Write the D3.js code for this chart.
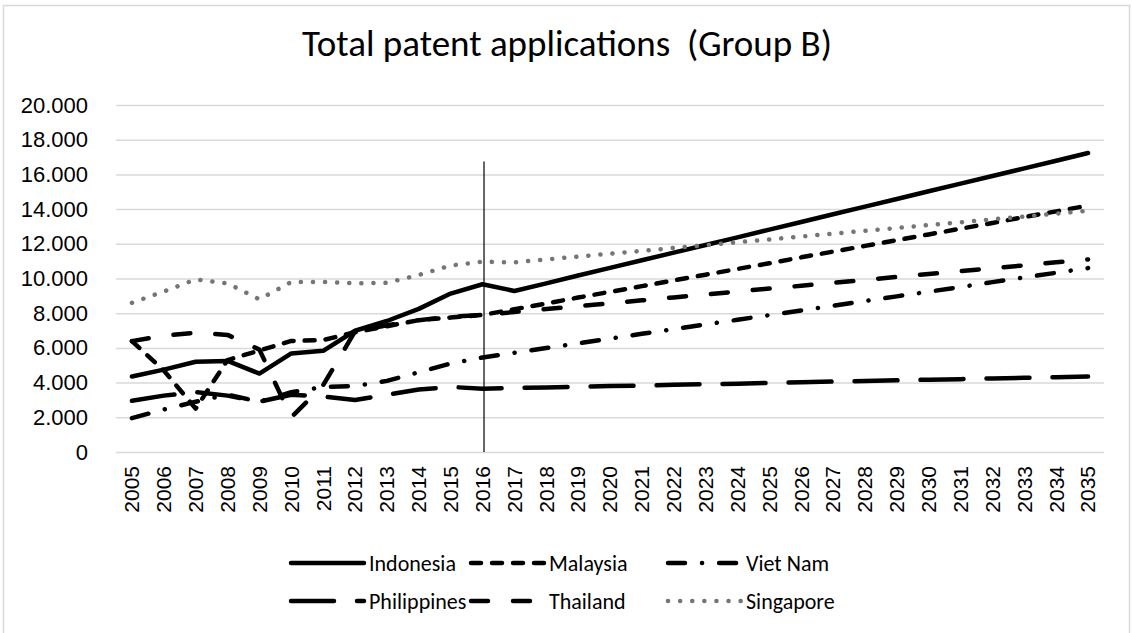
<!DOCTYPE html>
<html>
<head>
<meta charset="utf-8">
<script src="https://cdn.jsdelivr.net/npm/d3@7"></script>
<style>
  body { margin: 0; background: #fff; }
  svg { display: block; font-family: Carlito, Calibri, Lato, sans-serif; }
</style>
</head>
<body>
<div id="chart"></div>
<script>
const width = 1132;
const height = 633;

const years = d3.range(2005, 2036);
const yTicks = [0, 2000, 4000, 6000, 8000, 10000, 12000, 14000, 16000, 18000, 20000];

// values (2005..2035)
const indonesia = [4350, 4750, 5200, 5250, 4520, 5680, 5830, 6990, 7550, 8250, 9130, 9670,
  9280, 9720, 10170, 10610, 11050, 11490, 11930, 12370, 12820, 13260, 13700, 14140, 14580,
  15030, 15470, 15910, 16350, 16790, 17230];
const malaysia = [6390, 4700, 2500, 5300, 5850, 6400, 6450, 6900, 7250, 7600, 7750, 7900,
  8230, 8560, 8900, 9230, 9560, 9890, 10220, 10550, 10880, 11220, 11550, 11880, 12210,
  12540, 12870, 13200, 13540, 13870, 14200];
const vietnam = [1950, 2450, 2900, 3300, 2900, 3450, 3750, 3800, 4100, 4600, 5100, 5450,
  5720, 5990, 6260, 6530, 6810, 7080, 7350, 7620, 7890, 8160, 8430, 8700, 8970,
  9240, 9510, 9790, 10060, 10330, 10600];
const philippines = [2950, 3250, 3450, 3250, 2900, 3300, 3200, 3000, 3300, 3600, 3750, 3650,
  3690, 3720, 3760, 3800, 3830, 3870, 3910, 3940, 3980, 4020, 4060, 4090, 4130,
  4170, 4200, 4240, 4280, 4310, 4350];
const thailand = [6390, 6700, 6880, 6750, 5900, 2000, 3850, 6950, 7300, 7600, 7800, 7900,
  8070, 8240, 8410, 8570, 8740, 8910, 9080, 9250, 9420, 9580, 9750, 9920, 10090,
  10260, 10430, 10590, 10760, 10930, 11100];
const singapore = [8600, 9250, 9950, 9720, 8800, 9800, 9800, 9720, 9750, 10200, 10750, 10970,
  10930, 11100, 11260, 11430, 11590, 11760, 11920, 12090, 12250, 12420, 12580, 12750, 12910,
  13080, 13240, 13410, 13570, 13740, 13900];

const seriesNames = ['Indonesia', 'Malaysia', 'Viet Nam', 'Philippines', 'Thailand', 'Singapore'];
const seriesValues = [indonesia, malaysia, vietnam, philippines, thailand, singapore];

// the vertical marker line at the last observed year
const markerYear = 2016;
const markerTop = 16750;

const styles = {
  'Indonesia': { color: '#000', dash: null },
  'Malaysia': { color: '#000', dash: '10,11' },
  'Viet Nam': { color: '#000', dash: '17,17,0.1,17' },
  'Philippines': { color: '#000', dash: '43,23' },
  'Thailand': { color: '#000', dash: '17,25' },
  'Singapore': { color: '#757575', dash: '0.1,12' }
};

const margin = { left: 116, right: 28, top: 105, bottom: 181 };

const svg = d3.select('#chart').append('svg')
  .attr('width', width)
  .attr('height', height);

// chart frame
svg.append('rect')
  .attr('x', 3.5).attr('y', 5.5)
  .attr('width', 1126).attr('height', 640)
  .attr('fill', 'none')
  .attr('stroke', '#d9d9d9')
  .attr('stroke-width', 1.5);

const x = d3.scaleBand().domain(years).range([margin.left, width - margin.right]).padding(0);
const y = d3.scaleLinear().domain([0, 20000]).range([height - margin.bottom, margin.top]);
const cx = (yr) => x(yr) + x.bandwidth() / 2;

const locale = d3.formatLocale({ decimal: ',', thousands: '.', grouping: [3], currency: ['', ''] });
const fmt = locale.format(',');

// title
svg.append('text')
  .attr('x', 567).attr('y', 56)
  .attr('text-anchor', 'middle')
  .style('font-size', '37px')
  .style('white-space', 'pre')
  .attr('fill', '#000')
  .text('Total patent applications  (Group B)');

// gridlines + y labels
const yAxis = svg.append('g')
  .attr('transform', `translate(${margin.left},0)`)
  .call(d3.axisLeft(y).tickValues(yTicks).tickFormat(fmt)
    .tickSize(-(width - margin.left - margin.right)).tickPadding(28));
yAxis.select('.domain').remove();
yAxis.selectAll('.tick line').attr('stroke', '#d9d9d9').attr('stroke-width', 1.5);
yAxis.selectAll('.tick text').style('font-size', '22px').attr('fill', '#000');

// x labels
const xAxis = svg.append('g')
  .attr('transform', `translate(0,${height - margin.bottom})`)
  .call(d3.axisBottom(x).tickSize(0).tickPadding(0));
xAxis.select('.domain').remove();
xAxis.selectAll('.tick text')
  .style('font-size', '21px')
  .attr('fill', '#000')
  .attr('transform', 'rotate(-90)')
  .attr('text-anchor', 'end')
  .attr('dy', '0.35em')
  .attr('x', -14)
  .attr('y', 0);

// marker line
svg.append('line')
  .attr('x1', cx(markerYear) + 1.5).attr('x2', cx(markerYear) + 1.5)
  .attr('y1', y(markerTop)).attr('y2', y(0))
  .attr('stroke', '#000').attr('stroke-width', 1.2);

const line = d3.line()
  .x((d, i) => cx(years[i]))
  .y((d) => y(d));

const g = svg.append('g');
g.selectAll('path')
  .data(seriesNames)
  .join('path')
  .attr('d', (name, i) => line(seriesValues[i]))
  .attr('fill', 'none')
  .attr('stroke', (d) => styles[d].color)
  .attr('stroke-width', 4.5)
  .attr('stroke-linecap', 'round')
  .attr('stroke-linejoin', 'round')
  .attr('stroke-dasharray', (d) => styles[d].dash);

// legend
const legendCols = [291, 471, 668];
const legendRows = [563, 601];
const legend = svg.append('g');
seriesNames.forEach((name, i) => {
  const lx = legendCols[i % 3];
  const ly = legendRows[Math.floor(i / 3)];
  legend.append('line')
    .attr('x1', lx).attr('x2', lx + 73)
    .attr('y1', ly).attr('y2', ly)
    .attr('stroke', styles[name].color)
    .attr('stroke-width', 4.5)
    .attr('stroke-linecap', 'round')
    .attr('stroke-dasharray', styles[name].dash);
  legend.append('text')
    .attr('x', lx + 78).attr('y', ly)
    .attr('dy', '0.35em')
    .style('font-size', '22px')
    .attr('fill', '#000')
    .text(name);
});
</script>
</body>
</html>
